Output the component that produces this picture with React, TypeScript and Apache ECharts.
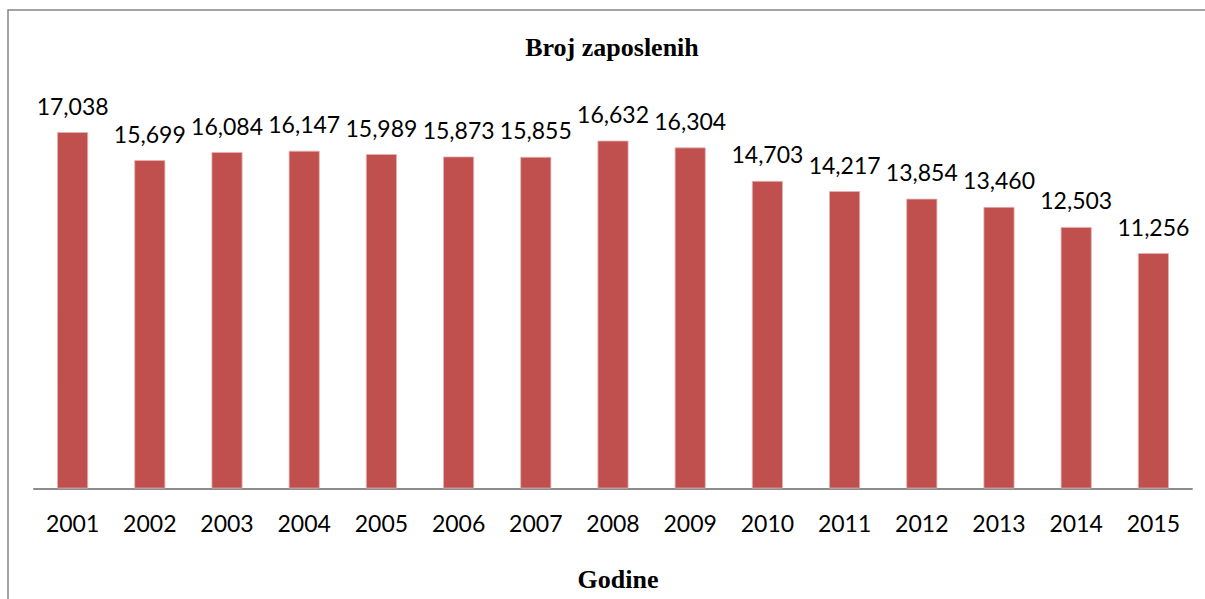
import React, { useEffect, useRef } from "react";
import * as echarts from "echarts";

const years = ["2001", "2002", "2003", "2004", "2005", "2006", "2007", "2008", "2009", "2010", "2011", "2012", "2013", "2014", "2015"];
const employees = [17038, 15699, 16084, 16147, 15989, 15873, 15855, 16632, 16304, 14703, 14217, 13854, 13460, 12503, 11256];
const chartTitle = "Broj zaposlenih";
const xAxisTitle = "Godine";

export default function App() {
  const ref = useRef<HTMLDivElement>(null);
  useEffect(() => {
    if (!ref.current) return;
    const chart = echarts.init(ref.current, null, { renderer: "svg" });
    chart.setOption({
      animation: false,
      backgroundColor: "#fff",
      title: {
        text: chartTitle,
        left: 612,
        top: 34,
        textAlign: "center",
        padding: 0,
        textStyle: {
          fontFamily: "Liberation Serif",
          fontWeight: "bold",
          fontSize: 26,
          lineHeight: 26,
          color: "#000",
        },
      },
      graphic: [
        {
          type: "rect",
          shape: { x: 8, y: 10, width: 1400, height: 800 },
          style: { fill: "none", stroke: "#878787", lineWidth: 1.5 },
          silent: true,
          z: -1,
        },
        {
          type: "text",
          x: 618,
          y: 579,
          style: {
            text: xAxisTitle,
            textAlign: "center",
            textVerticalAlign: "middle",
            fontFamily: "Liberation Serif",
            fontWeight: "bold",
            fontSize: 26,
            fill: "#000",
          },
        },
      ],
      grid: { left: 34, right: 13, top: 112, bottom: 110.5, containLabel: false },
      xAxis: {
        type: "category",
        data: years,
        axisLine: { show: true, lineStyle: { color: "#8c8c8c", width: 2 } },
        axisTick: { show: false },
        axisLabel: {
          margin: 23,
          fontFamily: "Lato",
          fontSize: 23,
          lineHeight: 23,
          color: "#000",
        },
      },
      yAxis: {
        type: "value",
        min: 0,
        max: 18000,
        show: false,
        splitLine: { show: false },
      },
      series: [
        {
          type: "bar",
          data: employees,
          barWidth: 31,
          itemStyle: { color: "#C0504D", borderColor: "#E3B2B1", borderWidth: 0.8 },
          label: {
            show: true,
            position: "top",
            distance: 15,
            fontFamily: "Lato",
            fontSize: 23,
            lineHeight: 23,
            color: "#000",
            formatter: (p: any) => Number(p.value).toLocaleString("en-US"),
          },
        },
      ],
    });
    return () => chart.dispose();
  }, []);
  return (
    <div
      ref={ref}
      style={{ position: "absolute", left: 0, top: 0, width: 1205, height: 599 }}
    />
  );
}
